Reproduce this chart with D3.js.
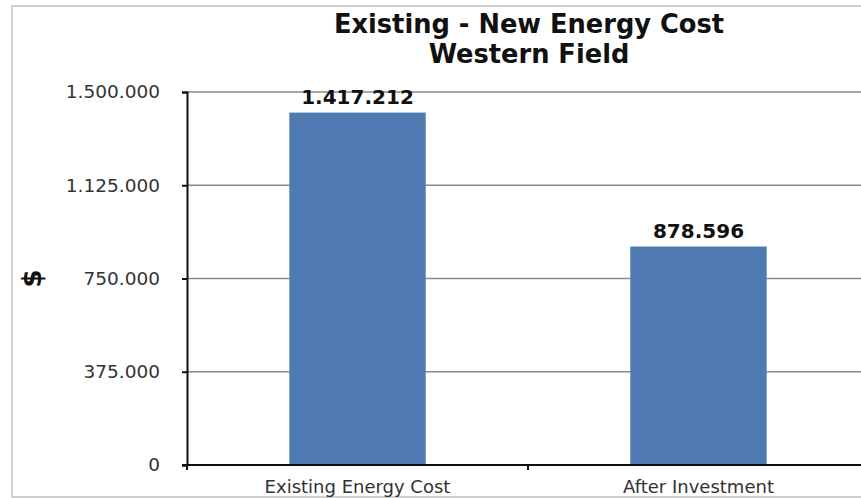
<!DOCTYPE html>
<html>
<head>
<meta charset="utf-8">
<script src="https://cdn.jsdelivr.net/npm/d3@7"></script>
<style>
  body { margin: 0; background: #fff; }
  svg { display: block; }
</style>
</head>
<body>
<svg id="lienzo" width="861" height="498"></svg>
<script>
// datos del grafico
const categorias = ["Existing Energy Cost", "After Investment"];
const valores = [1417212, 878596];
const ticksY = [0, 375000, 750000, 1125000, 1500000];
const titulo = ["Existing - New Energy Cost", "Western Field"];

const svg = d3.select('#lienzo');
const izq = 187, der = 869, arriba = 92, abajo = 465;

// formato con puntos como separador de miles
const fmt = v => d3.format(',')(v).replace(/,/g, '.');

// marco exterior
svg.append('rect')
    .attr('x', 12).attr('y', 6)
    .attr('width', 880).attr('height', 491)
    .attr('fill', 'none')
    .attr('stroke', '#c0c0c0')
    .attr('stroke-width', 1.5);

const y = d3.scaleLinear().domain([0, 1500000]).range([abajo, arriba]);
const x = d3.scaleBand().domain(categorias).range([izq, der])
    .paddingInner(0.6).paddingOuter(0.3);

// lineas de cuadricula
svg.selectAll('line.grid')
    .data(ticksY.filter(d => d > 0))
    .enter()
    .append('line')
    .attr('class', 'grid')
    .attr('x1', izq).attr('x2', der)
    .attr('y1', d => y(d)).attr('y2', d => y(d))
    .attr('stroke', '#8a8a8a')
    .attr('stroke-width', 1.5);

// barras
svg.selectAll('rect.barra')
    .data(valores)
    .enter()
    .append('rect')
    .attr('class', 'barra')
    .attr('x', (d, i) => x(categorias[i]))
    .attr('y', d => y(d))
    .attr('width', x.bandwidth())
    .attr('height', d => abajo - y(d))
    .attr('fill', '#4e79b1');

// etiquetas de valores
svg.selectAll('text.valor')
    .data(valores)
    .enter()
    .append('text')
    .attr('class', 'valor')
    .attr('x', (d, i) => x(categorias[i]) + x.bandwidth() / 2)
    .attr('y', d => y(d) - 9)
    .attr('text-anchor', 'middle')
    .attr('font-family', 'DejaVu Sans, Verdana, sans-serif')
    .attr('font-weight', 'bold')
    .attr('font-size', '20px')
    .attr('fill', '#111')
    .text(d => fmt(d));

// eje Y
const ejeY = svg.append('g')
    .attr('transform', `translate(${izq},0)`)
    .call(d3.axisLeft(y).tickValues(ticksY).tickSize(5).tickPadding(22)
        .tickFormat(d => fmt(d)));
ejeY.select('.domain').attr('stroke', '#111').attr('stroke-width', 2);
ejeY.selectAll('.tick line').attr('stroke', '#111').attr('stroke-width', 2);
ejeY.selectAll('.tick text')
    .attr('font-family', 'DejaVu Sans, Verdana, sans-serif')
    .attr('font-size', '18.5px')
    .attr('fill', '#333');

// eje X
svg.append('line')
    .attr('x1', izq - 5).attr('x2', der)
    .attr('y1', abajo).attr('y2', abajo)
    .attr('stroke', '#111').attr('stroke-width', 2);

const limites = categorias.map(c => x(c) - x.step() * 0.3).concat([der]);
svg.selectAll('line.tickx')
    .data(limites)
    .enter()
    .append('line')
    .attr('class', 'tickx')
    .attr('x1', d => d).attr('x2', d => d)
    .attr('y1', abajo).attr('y2', abajo + 5)
    .attr('stroke', '#111').attr('stroke-width', 2);

svg.selectAll('text.cat')
    .data(categorias)
    .enter()
    .append('text')
    .attr('class', 'cat')
    .attr('x', d => x(d) + x.bandwidth() / 2)
    .attr('y', 493)
    .attr('text-anchor', 'middle')
    .attr('font-family', 'DejaVu Sans, Verdana, sans-serif')
    .attr('font-size', '18px')
    .attr('fill', '#333')
    .text(d => d);

// titulo
svg.selectAll('text.titulo')
    .data(titulo)
    .enter()
    .append('text')
    .attr('class', 'titulo')
    .attr('x', 529)
    .attr('y', (d, i) => 33 + i * 30)
    .attr('text-anchor', 'middle')
    .attr('font-family', 'DejaVu Sans, Verdana, sans-serif')
    .attr('font-weight', 'bold')
    .attr('font-size', '25.7px')
    .attr('fill', '#111')
    .text(d => d);

// titulo del eje Y
svg.append('text')
    .attr('transform', `translate(41,${y(750000)}) rotate(-90)`)
    .attr('text-anchor', 'middle')
    .attr('font-family', 'DejaVu Sans, Verdana, sans-serif')
    .attr('font-weight', 'bold')
    .attr('font-size', '26px')
    .attr('fill', '#111')
    .text('$');
</script>
</body>
</html>
